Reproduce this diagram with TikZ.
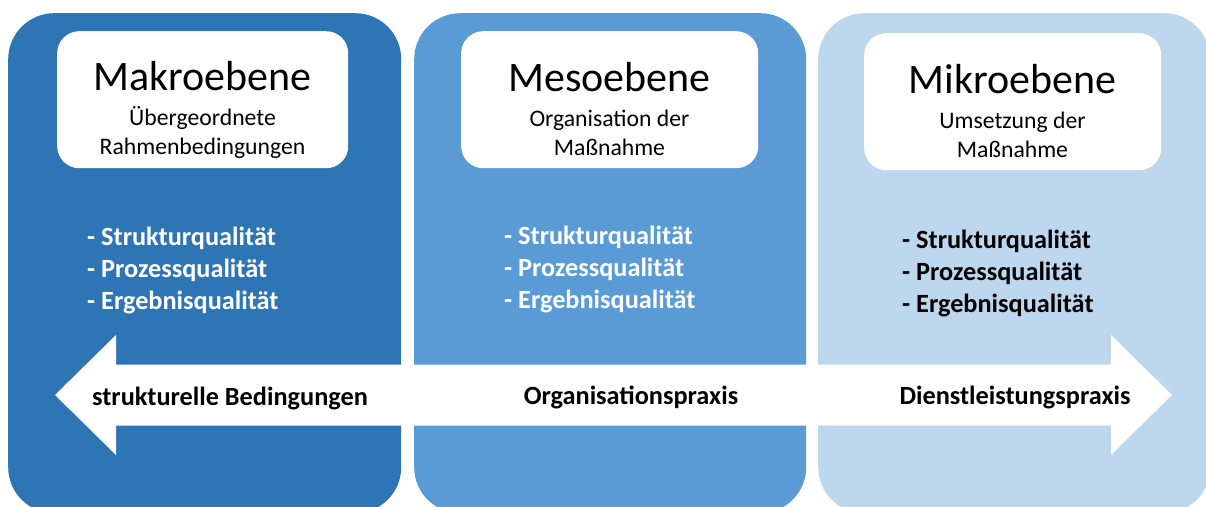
\documentclass[tikz,border=0pt]{standalone}
\usepackage{fontspec}
\setmainfont{Carlito}
\definecolor{darkb}{HTML}{2E75B6}
\definecolor{midb}{HTML}{5B9BD5}
\definecolor{lightb}{HTML}{BDD7EE}
\tikzset{
  panel/.style={rectangle, rounded corners=46pt, inner sep=0pt, anchor=north west},
  titlebox/.style={rectangle, rounded corners=22pt, fill=white, inner sep=0pt, anchor=north west, minimum height=137pt},
  ttl/.style={anchor=base, inner sep=0pt, font=\fontsize{42}{50}\selectfont},
  sub/.style={anchor=base, inner sep=0pt, font=\fontsize{23.7}{29}\selectfont},
  bul/.style={anchor=base west, inner sep=0pt, font=\fontsize{26.3}{32}\selectfont\bfseries},
  arl/.style={anchor=base, inner sep=0pt, font=\fontsize{26.3}{32}\selectfont\bfseries}
}
\begin{document}
\begin{tikzpicture}[x=1pt,y=-1pt]
\clip (0,0) rectangle (1206,506);
\fill[white] (0,0) rectangle (1206,506);
% panels
\node[panel, fill=darkb, minimum width=393pt, minimum height=500pt] (p1) at (8,13) {};
\node[panel, fill=midb, minimum width=392pt, minimum height=500pt] (p2) at (414,13) {};
\node[panel, fill=lightb, minimum width=392pt, minimum height=500pt] (p3) at (818,13) {};
% title boxes
\node[titlebox, minimum width=291pt] (b1) at (57,31) {};
\node[titlebox, minimum width=297pt] (b2) at (461,31) {};
\node[titlebox, minimum width=297pt] (b3) at (864,33) {};
\node[ttl] (t1) at (202.5,90) {Makroebene};
\node[sub] (s1a) at (202.5,125) {Übergeordnete};
\node[sub] (s1b) at (202.5,154) {Rahmenbedingungen};
\node[ttl] (t2) at (609.5,91) {Mesoebene};
\node[sub] (s2a) at (609.5,126) {Organisation der};
\node[sub] (s2b) at (609.5,155) {Maßnahme};
\node[ttl] (t3) at (1012.5,93) {Mikroebene};
\node[sub] (s3a) at (1012.5,128) {Umsetzung der};
\node[sub] (s3b) at (1012.5,157) {Maßnahme};
% bullets
\node[bul, text=white] (q1a) at (87,245) {- Strukturqualität};
\node[bul, text=white] (q1b) at (87,277) {- Prozessqualität};
\node[bul, text=white] (q1c) at (87,309) {- Ergebnisqualität};
\node[bul, text=white] (q2a) at (504,244) {- Strukturqualität};
\node[bul, text=white] (q2b) at (504,276) {- Prozessqualität};
\node[bul, text=white] (q2c) at (504,308) {- Ergebnisqualität};
\node[bul, text=black] (q3a) at (902,248) {- Strukturqualität};
\node[bul, text=black] (q3b) at (902,280) {- Prozessqualität};
\node[bul, text=black] (q3c) at (902,312) {- Ergebnisqualität};
% double arrow
\fill[white] (55,395) -- (116,335) -- (116,364.5) -- (1111,364.5) -- (1111,335) -- (1172,395)
  -- (1111,455) -- (1111,425.5) -- (116,425.5) -- (116,455) -- cycle;
\node[arl] (a1) at (230,405) {strukturelle Bedingungen};
\node[arl] (a2) at (631,404) {Organisationspraxis};
\node[arl] (a3) at (1015,404) {Dienstleistungspraxis};
\end{tikzpicture}
\end{document}
